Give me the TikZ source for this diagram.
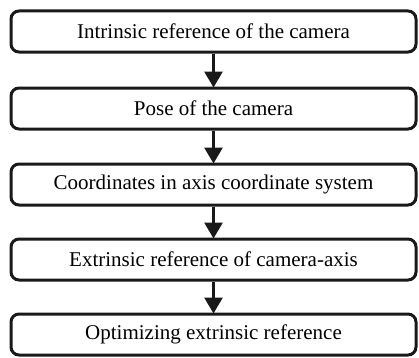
\documentclass[tikz,border=0pt]{standalone}
\usepackage{fontspec}
\setmainfont{Liberation Serif}
\usetikzlibrary{arrows.meta}
\begin{document}
\begin{tikzpicture}[x=1pt,y=1pt,
  stepbox/.style={draw=black!90, line width=3pt, rounded corners=8pt,
    minimum width=405pt, minimum height=41pt, inner sep=0pt,
    font=\fontsize{21}{24}\selectfont},
  flow/.style={draw=black!90, line width=3pt,
    -{Triangle[width=18pt,length=16pt]}, shorten >=-1pt}]
\useasboundingbox (0,0) rectangle (419,357);
\node[stepbox] (b1) at (213.5,357-31.5) {Intrinsic reference of the camera};
\node[stepbox] (b2) at (213.5,357-108.5) {Pose of the camera};
\node[stepbox] (b3) at (213.5,357-184.5) {Coordinates in axis coordinate system};
\node[stepbox] (b4) at (213.5,357-259.5) {Extrinsic reference of camera-axis};
\node[stepbox] (b5) at (213.5,357-334.5) {Optimizing extrinsic reference};
\draw[flow] (b1) -- (b2);
\draw[flow] (b2) -- (b3);
\draw[flow] (b3) -- (b4);
\draw[flow] (b4) -- (b5);
\end{tikzpicture}
\end{document}
